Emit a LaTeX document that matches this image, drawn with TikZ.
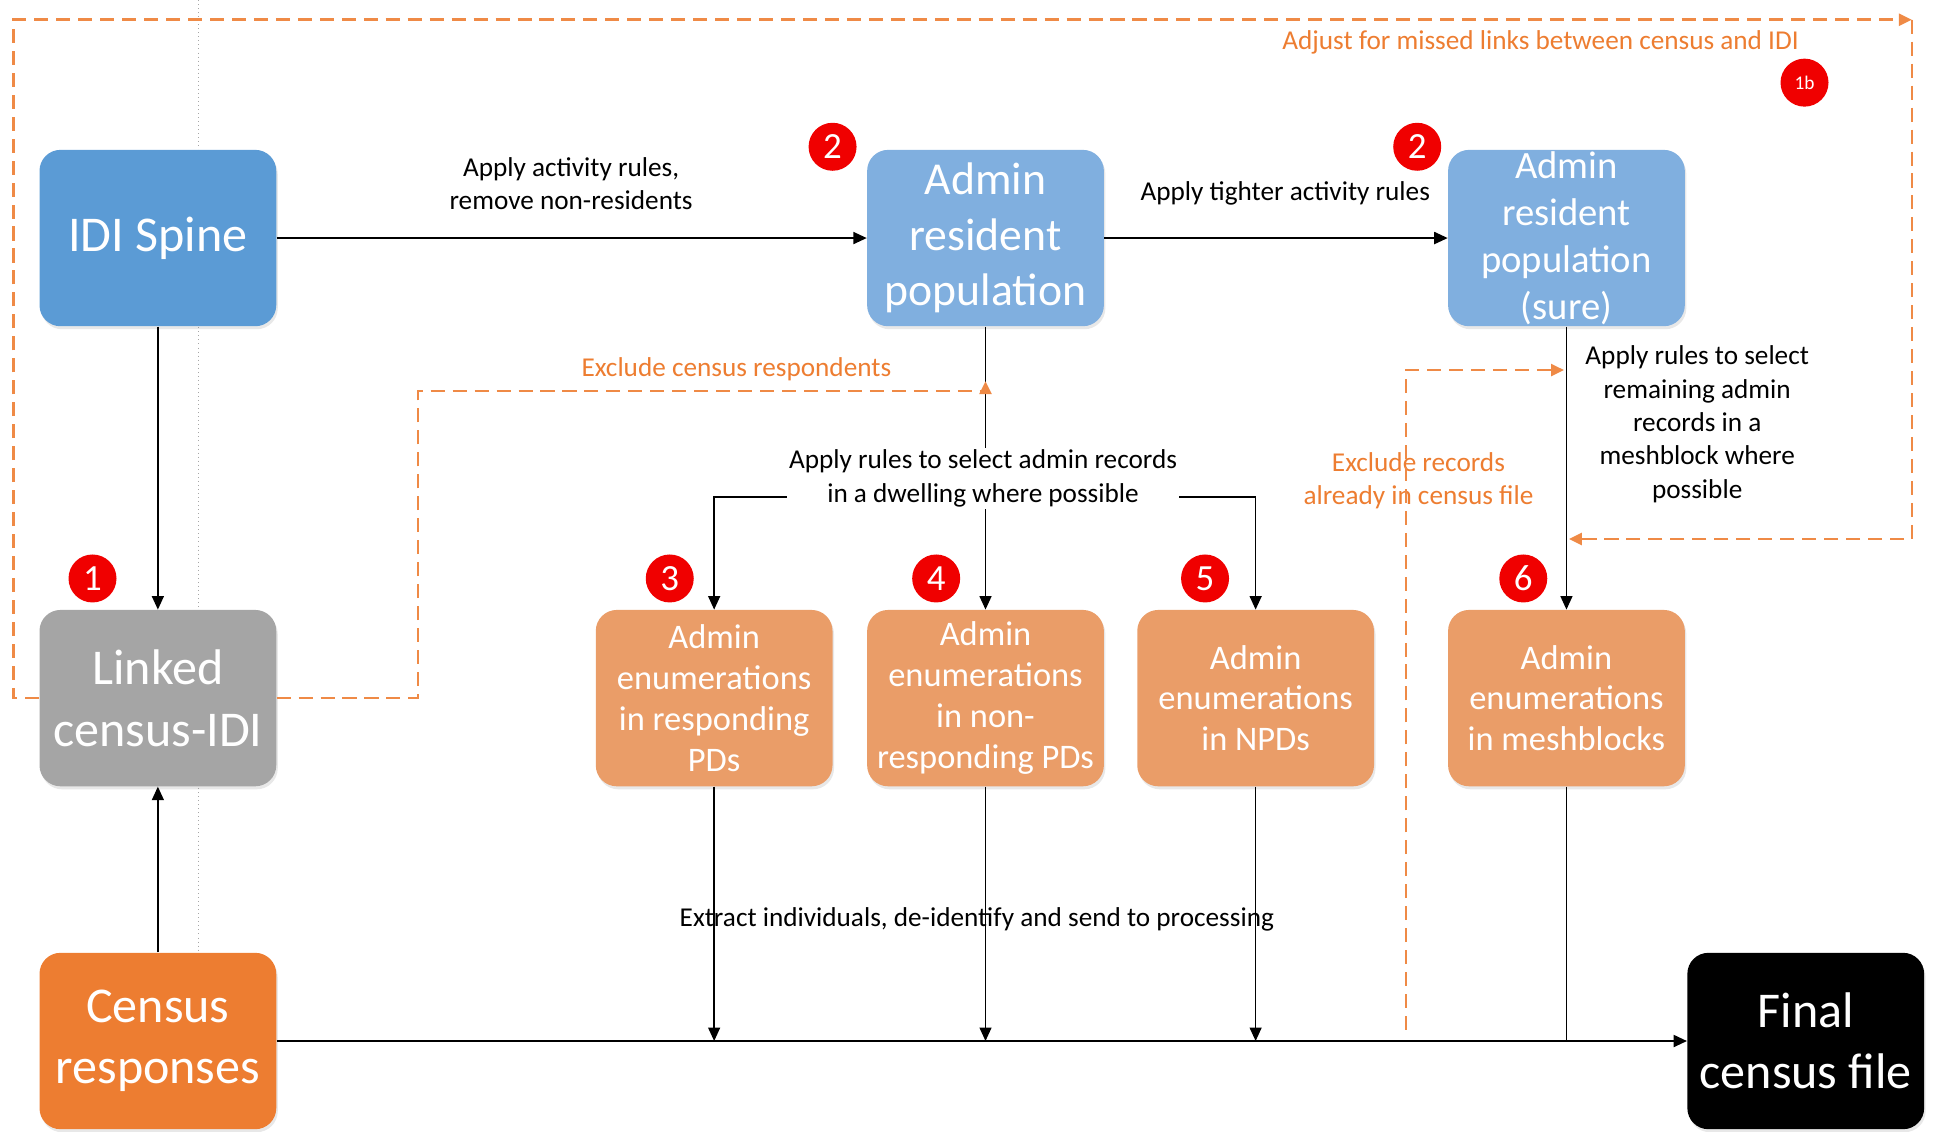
\documentclass[tikz,border=0pt]{standalone}
\usepackage{fontspec}
\setmainfont{Carlito}
\usetikzlibrary{arrows.meta}
\usetikzlibrary{shadows}
\definecolor{blau}{HTML}{5B9BD5}
\definecolor{hellblau}{HTML}{80AFDF}
\definecolor{grau}{HTML}{A5A5A5}
\definecolor{orangeA}{HTML}{ED7D31}
\definecolor{hellorange}{HTML}{EA9D68}
\definecolor{rot}{HTML}{F00000}
\newcommand{\schriftgross}{\fontsize{28.5}{35}\selectfont}
\newcommand{\schriftmittel}{\fontsize{26}{31.6}\selectfont}
\newcommand{\schriftsure}{\fontsize{22}{26.7}\selectfont}
\newcommand{\schriftenum}{\fontsize{19.6}{23.2}\selectfont}
\newcommand{\schriftlabel}{\fontsize{15.5}{19}\selectfont}
\tikzset{kasten/.style = {
    shape = rectangle, rounded corners = 0.42cm, text = white, align = center,
    minimum width = 4.736cm, minimum height = 3.528cm, inner sep = 0pt,
    drop shadow = {shadow xshift = 0.03cm, shadow yshift = -0.06cm, opacity = 0.18}
}}
\tikzset{marke/.style = {
    shape = circle, fill = rot, text = white, minimum size = 0.96cm, inner sep = 0pt,
    font = \fontsize{21}{21}\selectfont
}}
\tikzset{beschriftung/.style = {
    align = center, inner sep = 1pt, font = \schriftlabel
}}
\tikzset{pfeil/.style = {
    line width = 0.8pt, -{Triangle[length=2.7mm, width=2.4mm]}
}}
\tikzset{strich/.style = {
    draw = orangeA!90!white, line width = 1.4pt, dash pattern = on 8pt off 4.5pt
}}
\tikzset{strichpfeil/.style = {
    strich, -{Triangle[length=2.6mm, width=2.4mm]}
}}

\begin{document}
\begin{tikzpicture}[x=0.024668cm, y=-0.024668cm]
  \useasboundingbox (0,0) rectangle (1568,917);
  % Hilfslinie
  \draw[gray!70, line width=0.3pt, dotted] (161,0) -- (161,917);

  % Kaesten
  \node (spine) at (128,193) [kasten, fill=blau, font=\schriftgross] {IDI Spine};
  \node (linked) at (128,566) [kasten, fill=grau, font=\schriftgross] {Linked\\census-IDI};
  \node (census) at (128,844) [kasten, fill=orangeA, font=\schriftgross] {Census\\responses};
  \node (final) at (1464,844) [kasten, fill=black, font=\schriftgross] {Final\\census file};
  \node (arp) at (799,193) [kasten, fill=hellblau, font=\schriftmittel] {Admin\\resident\\population};
  \node (arps) at (1270,193) [kasten, fill=hellblau, font=\schriftsure] {Admin\\resident\\population\\(sure)};
  \node (enum3) at (579,566) [kasten, fill=hellorange, font=\schriftenum] {Admin\\enumerations\\in responding\\PDs};
  \node (enum4) at (799,566) [kasten, fill=hellorange, font=\schriftenum] {Admin\\enumerations\\in non-\\responding PDs};
  \node (enum5) at (1018,566) [kasten, fill=hellorange, font=\schriftenum] {Admin\\enumerations\\in NPDs};
  \node (enum6) at (1270,566) [kasten, fill=hellorange, font=\schriftenum] {Admin\\enumerations\\in meshblocks};

  % Nummern
  \node (m1) at (75,469) [marke] {1};
  \node (m2a) at (675,119) [marke] {2};
  \node (m2b) at (1149,119) [marke] {2};
  \node (m3) at (543,469) [marke] {3};
  \node (m4) at (759,469) [marke] {4};
  \node (m5) at (977,469) [marke] {5};
  \node (m6) at (1235,469) [marke] {6};
  \node (m1b) at (1463,67) [marke, font=\fontsize{11}{11}\selectfont] {1b};

  % Beschriftungen
  \node (aktiv) at (463,149) [beschriftung] {Apply activity rules,\\remove non-residents};
  \node (enger) at (1042,157) [beschriftung] {Apply tighter activity rules};
  \node (dwell) at (797,388) [beschriftung] {Apply rules to select admin records\\in a dwelling where possible};
  \node (mesh) at (1376,344) [beschriftung] {Apply rules to select\\remaining admin\\records in a\\meshblock where\\possible};
  \node (extract) at (792,745) [beschriftung] {Extract individuals, de-identify and send to processing};
  \node (exresp) at (597,299) [beschriftung, text=orangeA] {Exclude census respondents};
  \node (exfile) at (1150,390) [beschriftung, text=orangeA] {Exclude records\\already in census file};
  \node (adjust) at (1249,34) [beschriftung, text=orangeA] {Adjust for missed links between census and IDI};

  % Hilfspunkte
  \coordinate (gabel) at (799,403);
  \coordinate (ecke) at (1550,16);
  \coordinate (treffer) at (1272,437);
  \coordinate (ausschluss) at (799,309);
  \coordinate (start6) at (1140,835);
  \coordinate (ziel6) at (1268,300);

  % Verbindungen
  \draw[pfeil, line width=1.1pt] (spine) -- (arp);
  \draw[pfeil, line width=1.1pt] (arp) -- (arps);
  \draw[pfeil] (spine) -- (linked);
  \draw[pfeil] (census) -- (linked);
  \draw[line width=0.8pt] (arp.south) -- (arp.south |- dwell.north);
  \draw[pfeil] (arp.south |- dwell.south) -- (enum4);
  \draw[pfeil] (gabel -| dwell.west) -| (enum3.north);
  \draw[pfeil] (gabel -| dwell.east) -| (enum5.north);
  \draw[pfeil] (arps) -- (enum6);
  \draw[pfeil] (enum3.south) -- (enum3.south |- census.east);
  \draw[pfeil] (enum4.south) -- (enum4.south |- census.east);
  \draw[pfeil] (enum5.south) -- (enum5.south |- census.east);
  \draw[line width=0.8pt] (enum6.south) -- (enum6.south |- census.east);
  \draw[pfeil, line width=1.3pt] (census) -- (final);

  % gestrichelte Rueckfuehrungen
  \draw[strichpfeil] (linked.west) -| (11,16) -- (ecke);
  \draw[strichpfeil] (ecke) |- (treffer);
  \draw[strichpfeil] (linked.east) -| (339,317) -| (ausschluss);
  \draw[strichpfeil] (start6) |- (ziel6);
\end{tikzpicture}
\end{document}
